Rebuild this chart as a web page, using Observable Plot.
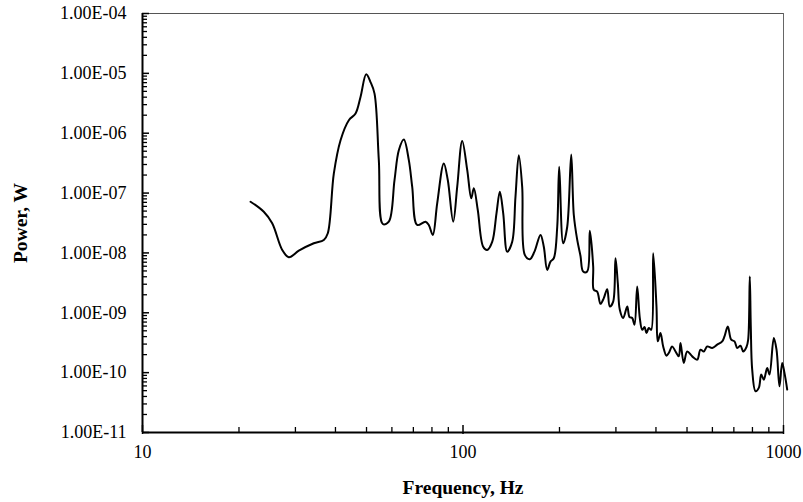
<!DOCTYPE html>
<html>
<head>
<meta charset="utf-8">
<script src="https://cdn.jsdelivr.net/npm/d3@7"></script>
<script src="https://cdn.jsdelivr.net/npm/@observablehq/plot@0.6"></script>
<style>
  html, body { margin: 0; padding: 0; background: #fff; }
  #chart svg { display: block; }
</style>
</head>
<body>
<div id="chart"></div>
<script>
// Frequency (Hz)
const freq = [
  21.73, 23.90, 25.39, 27.29, 28.61, 30.74, 34.23, 36.79, 37.86, 39.54,
  41.49, 44.04, 46.21, 47.89, 49.89, 51.45, 52.96, 54.62, 56.22, 58.69,
  61.14, 63.06, 65.37, 67.76, 69.43, 71.97, 76.38, 78.21, 80.50, 83.08,
  87.11, 89.65, 93.20, 95.92, 99.43, 103.1, 106.1, 108.1, 111.2, 115.6,
  119.0, 123.4, 127.2, 130.3, 133.5, 137.4, 142.4, 145.8, 149.3, 153.0,
  155.9, 161.6, 167.1, 174.5, 178.7, 183.1, 187.5, 192.0, 196.8, 199.6,
  205.4, 211.4, 217.6, 221.7, 227.2, 232.6, 237.1, 244.1, 248.7, 254.8,
  255.9, 262.2, 268.5, 275.0, 281.8, 287.1, 294.2, 299.1, 304.1, 308.5,
  316.1, 325.4, 330.8, 337.3, 342.9, 349.6, 356.2, 362.4, 368.4, 373.7,
  379.9, 386.5, 392.1, 401.5, 405.3, 413.2, 421.3, 431.4, 438.6, 449.4,
  460.3, 471.3, 477.1, 488.5, 500.6, 519.0, 538.0, 550.8, 564.0, 578.0,
  599.1, 621.0, 643.8, 654.5, 670.2, 686.8, 703.3, 717.0, 734.2, 748.6,
  766.5, 775.9, 784.9, 790.6, 798.6, 817.8, 837.4, 852.0, 868.1, 889.5,
  904.4, 932.7, 951.1, 971.6, 990.6, 1007, 1027
];
// Power (W)
const power = [
  7.16e-8, 4.88e-8, 3.13e-8, 1.12e-8, 8.48e-9, 1.09e-8, 1.45e-8, 1.65e-8, 2.13e-8, 2.13e-7,
  7.64e-7, 1.65e-6, 2.13e-6, 4.03e-6, 9.62e-6, 7.16e-6, 4.59e-6, 3.55e-7, 3.04e-8, 3.33e-8,
  1.65e-7, 5.21e-7, 7.85e-7, 3.55e-7, 1.27e-7, 2.93e-8, 3.33e-8, 2.93e-8, 2.0e-8, 6.73e-8,
  3.13e-7, 1.65e-7, 3.33e-8, 1.27e-7, 7.44e-7, 2.42e-7, 8.16e-8, 1.2e-7, 5.21e-8, 1.27e-8,
  1.12e-8, 1.54e-8, 4.59e-8, 1.05e-7, 4.59e-8, 1.05e-8, 1.54e-8, 8.67e-8, 4.3e-7, 1.27e-7,
  9.27e-9, 7.85e-9, 1.05e-8, 2.0e-8, 1.27e-8, 5.21e-9, 7.16e-9, 8.16e-9, 2.74e-8, 2.74e-7,
  1.45e-8, 2.71e-8, 4.41e-7, 4.3e-8, 1.65e-8, 8.9e-9, 4.88e-9, 4.88e-9, 2.35e-8, 5.91e-9,
  2.42e-9, 2.26e-9, 1.41e-9, 1.76e-9, 2.48e-9, 1.27e-9, 1.54e-9, 8.16e-9, 3.13e-9, 1.12e-9,
  8.16e-10, 1.27e-9, 8.48e-10, 8.16e-10, 6.31e-10, 2.74e-9, 8.16e-10, 5.21e-10, 5.78e-10, 4.59e-10,
  5.56e-10, 5.21e-10, 9.89e-9, 1.27e-9, 3.33e-10, 4.59e-10, 2.74e-10, 1.92e-10, 2.13e-10, 2.74e-10,
  2.26e-10, 1.87e-10, 3.13e-10, 1.45e-10, 2.26e-10, 1.87e-10, 1.65e-10, 2.42e-10, 2.26e-10, 2.74e-10,
  2.58e-10, 2.93e-10, 3.33e-10, 4.03e-10, 5.91e-10, 3.55e-10, 3.33e-10, 2.58e-10, 2.82e-10, 2.26e-10,
  2.68e-10, 3.55e-10, 4.03e-9, 5.91e-10, 1.12e-10, 4.88e-11, 5.56e-11, 9.27e-11, 7.64e-11, 1.2e-10,
  9.27e-11, 3.79e-10, 2.42e-10, 5.91e-11, 1.45e-10, 9.89e-11, 5.21e-11
];

const freqTicks = [10, 100, 1000];
const freqMinorTicks = [20, 30, 40, 50, 60, 70, 80, 90, 200, 300, 400, 500, 600, 700, 800, 900];
const powerTicks = [1e-4, 1e-5, 1e-6, 1e-7, 1e-8, 1e-9, 1e-10, 1e-11];
const powerMinorMantissas = [2, 3, 4, 5, 6, 7, 8, 9];

const xTitle = "Frequency, Hz";
const yTitle = "Power, W";

const data = freq.map((f, i) => ({f, p: power[i]}));
const powerMinorTicks = powerTicks.slice(1).flatMap(t => powerMinorMantissas.map(m => m * t));

const fmtPower = d => {
  const e = Math.round(Math.log10(d));
  const m = d / Math.pow(10, e);
  return m.toFixed(2) + "E" + (e < 0 ? "-" : "+") + String(Math.abs(e)).padStart(2, "0");
};

const W = 803, H = 502, mT = 13, mB = 70, mL = 142, mR = 20;
const innerW = W - mL - mR, innerH = H - mT - mB;
const font = "'Liberation Serif', 'Times New Roman', Times, serif";

const chart = Plot.plot({
  width: W,
  height: H,
  marginTop: mT,
  marginBottom: mB,
  marginLeft: mL,
  marginRight: mR,
  style: {fontFamily: font, fontSize: "18px", color: "#000", background: "#fff"},
  x: {type: "log", domain: [10, 1000]},
  y: {type: "log", domain: [1e-11, 1e-4]},
  marks: [
    // frame top & right
    Plot.ruleY([1e-4], {stroke: "#555", strokeWidth: 1}),
    Plot.ruleX([1000], {stroke: "#666", strokeWidth: 1}),
    // inward tick marks on the y axis
    Plot.ruleY(powerMinorTicks, {stroke: "#000", strokeWidth: 1.3, insetRight: innerW - 5}),
    Plot.ruleY(powerTicks, {stroke: "#000", strokeWidth: 1.5, insetRight: innerW - 7}),
    // inward tick marks on the x axis
    Plot.ruleX(freqMinorTicks, {stroke: "#000", strokeWidth: 1.3, insetTop: innerH - 5}),
    Plot.ruleX(freqTicks, {stroke: "#000", strokeWidth: 1.5, insetTop: innerH - 7, insetBottom: -2}),
    // tick labels
    Plot.axisY(powerTicks, {anchor: "left", tickSize: 0, tickPadding: 16, tickFormat: fmtPower, label: null, fontSize: 18}),
    Plot.axisX(freqTicks, {anchor: "bottom", tickSize: 0, tickPadding: 13, tickFormat: d => String(d), label: null, fontSize: 18}),
    // axis lines
    Plot.ruleX([10], {stroke: "#000", strokeWidth: 2}),
    Plot.ruleY([1e-11], {stroke: "#000", strokeWidth: 2}),
    // data line
    Plot.line(data, {x: "f", y: "p", stroke: "#000", strokeWidth: 2, curve: "catmull-rom"}),
    // axis titles
    Plot.text([xTitle], {frameAnchor: "bottom", dy: 55, textAnchor: "middle", lineAnchor: "middle", fontWeight: "bold", fontSize: 19.5}),
    Plot.text([yTitle], {frameAnchor: "left", dx: -122, rotate: -90, textAnchor: "middle", lineAnchor: "middle", fontWeight: "bold", fontSize: 19.5})
  ]
});

document.getElementById("chart").appendChild(chart);
</script>
</body>
</html>
